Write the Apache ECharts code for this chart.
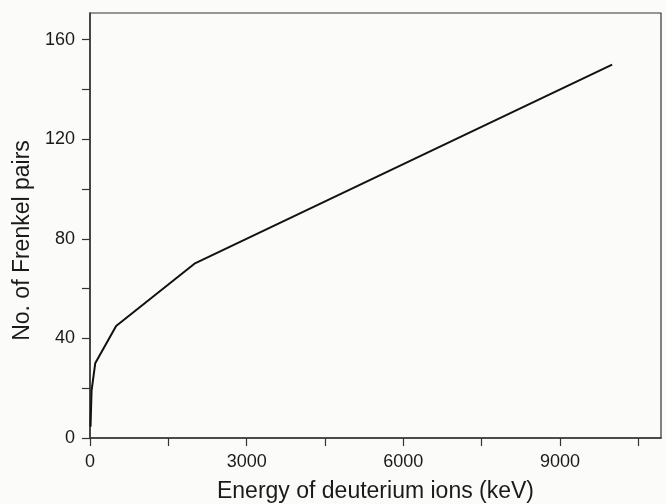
<!DOCTYPE html>
<html>
<head>
<meta charset="utf-8">
<script src="https://cdn.jsdelivr.net/npm/echarts@6/dist/echarts.min.js"></script>
<style>
  html, body { margin: 0; padding: 0; background: #fbfbfa; }
  #chart { width: 666px; height: 504px; }
</style>
</head>
<body>
<div id="chart"></div>
<script>
// energy of deuterium ions (keV) and number of Frenkel pairs
const energy = [10, 30, 100, 500, 2000, 10000]
const frenkel = [4.5, 19, 30, 45, 70, 150]

const xTicks = [0, 3000, 6000, 9000]
const yTicks = [0, 40, 80, 120, 160]

const myChart = echarts.init(document.getElementById('chart'))

const font = 'Liberation Sans, Arial, sans-serif'

const option = {
  backgroundColor: '#fbfbfa',
  animation: false,
  grid: {
    left: 90,
    right: 5,
    top: 13,
    bottom: 66,
    outerBoundsMode: 'none',
    show: true,
    borderColor: '#333',
    borderWidth: 1.2
  },
  xAxis: {
    type: 'value',
    min: 0,
    max: 10935,
    interval: 1500,
    name: 'Energy of deuterium ions (keV)',
    nameLocation: 'middle',
    nameGap: 42,
    nameTextStyle: { fontFamily: font, fontSize: 23, color: '#1a1a1a' },
    axisLine: { show: true, lineStyle: { color: '#333', width: 1.5 } },
    axisTick: { show: true, inside: false, length: 8, lineStyle: { color: '#333', width: 1.2 } },
    axisLabel: {
      fontFamily: font,
      fontSize: 18,
      color: '#1a1a1a',
      margin: 15,
      showMaxLabel: false,
      formatter: (v) => (xTicks.includes(v) ? String(v) : '')
    },
    splitLine: { show: false }
  },
  yAxis: {
    type: 'value',
    min: 0,
    max: 170.7,
    interval: 20,
    name: 'No. of Frenkel pairs',
    nameLocation: 'middle',
    nameGap: 54,
    nameTextStyle: { fontFamily: font, fontSize: 23, color: '#1a1a1a', padding: [0, 30, 0, 0] },
    axisLine: { show: true, lineStyle: { color: '#333', width: 1.5 } },
    axisTick: { show: true, inside: false, length: 8, lineStyle: { color: '#333', width: 1.2 } },
    axisLabel: {
      fontFamily: font,
      fontSize: 18,
      color: '#1a1a1a',
      margin: 15,
      showMaxLabel: false,
      formatter: (v) => (yTicks.includes(v) ? String(v) : '')
    },
    splitLine: { show: false }
  },
  series: [
    {
      type: 'line',
      data: energy.map((e, i) => [e, frenkel[i]]),
      showSymbol: false,
      lineStyle: { color: '#111', width: 2 },
      itemStyle: { color: '#111' }
    }
  ]
}

myChart.setOption(option)
</script>
</body>
</html>
